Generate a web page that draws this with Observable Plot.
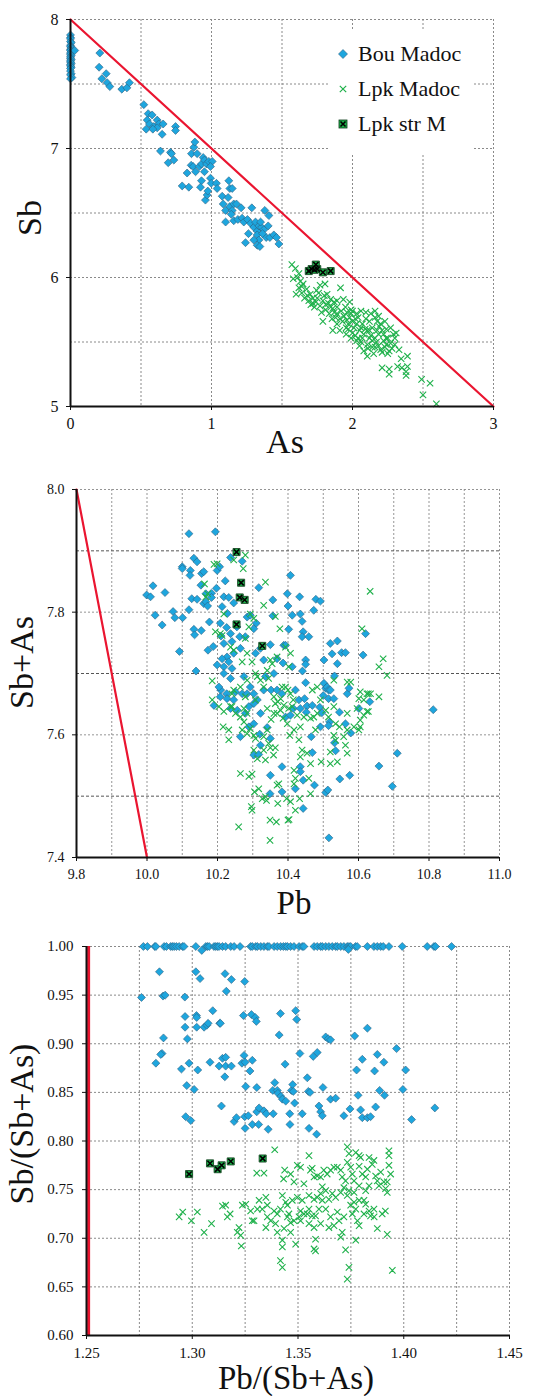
<!DOCTYPE html>
<html>
<head>
<meta charset="utf-8">
<script src="https://cdn.jsdelivr.net/npm/d3@7"></script>
<script src="https://cdn.jsdelivr.net/npm/@observablehq/plot@0.6"></script>
<style>
  html, body { margin: 0; padding: 0; background: white; }
  #wrap { position: relative; width: 543px; }
  #wrap svg { display: block; }
  #legend { position: absolute; left: 328px; top: 31px; width: 146px; height: 122px; background: white;
            font-family: "Liberation Serif", "Times New Roman", serif; font-size: 22px; color: #111; }
  .item { position: absolute; left: 0; height: 24px; display: flex; align-items: center; white-space: nowrap; }
  .item svg { margin-left: 8px; margin-right: 8px; }
</style>
</head>
<body>
<div id="wrap">
  <div id="p1"></div>
  <div id="p2"></div>
  <div id="p3"></div>
  <div id="legend"></div>
</div>
<script>
const seriesNames = ["Bou Madoc", "Lpk Madoc", "Lpk str M"];

// ---------- Panel 1: Sb vs As ----------
const p1XDomain = [0, 3];
const p1YDomain = [5, 8];
const p1XTicks = [0, 1, 2, 3];
const p1YTicks = [5, 6, 7, 8];
const p1XGrid = [0.5, 1, 1.5, 2, 2.5, 3];
const p1YGrid = [5.5, 6, 6.5, 7, 7.5, 8];
const p1RedLine = [[0, 8], [3, 5]];
const p1Bou = [
  [0,7.88],[0,7.86],[0,7.85],[0,7.83],[0.005,7.82],[0,7.80],[0,7.79],[0.005,7.78],[0,7.77],[0,7.76],
  [0.005,7.75],[0,7.74],[0,7.73],[0.005,7.72],[0,7.71],[0,7.70],[0.005,7.69],[0,7.68],[0,7.67],[0.005,7.66],
  [0,7.65],[0,7.64],[0.005,7.63],[0,7.62],[0,7.60],[0.005,7.58],[0,7.57],[0.01,7.55],[0,7.54],[0.03,7.76],
  [0.208,7.74],[0.203,7.63],[0.222,7.54],[0.253,7.58],[0.26,7.51],[0.279,7.48],[0.364,7.46],[0.40,7.47],[0.418,7.51],
  [0.52,7.34],[0.551,7.27],[0.579,7.26],[0.544,7.22],[0.56,7.19],[0.537,7.15],[0.591,7.17],[0.615,7.22],[0.626,7.19],
  [0.657,7.19],[0.65,7.11],[0.615,7.16],[0.584,7.15],[0.745,7.17],[0.745,7.14],[0.638,6.98],[0.693,6.89],[0.709,6.97],
  [0.716,6.96],[0.733,6.91],[0.792,6.71],[0.839,6.70],[0.827,6.81],[0.856,6.87],[0.875,7.01],[0.882,7.05],[0.858,6.96],
  [0.898,6.96],[0.87,6.86],[0.887,6.82],[0.913,6.86],[0.929,6.88],[0.941,6.93],[0.95,6.91],[0.965,6.88],[0.981,6.90],
  [1.005,6.90],[0.993,6.86],[0.95,6.82],[0.929,6.75],[0.922,6.70],[0.957,6.60],[0.969,6.64],[0.974,6.67],[0.993,6.77],
  [0.998,6.73],[1.035,6.73],[1.04,6.69],[1.076,6.63],[1.083,6.57],[1.10,6.52],[1.10,6.43],[1.123,6.75],[1.13,6.69],
  [1.147,6.69],[1.118,6.62],[1.13,6.55],[1.147,6.52],[1.14,6.49],[1.158,6.57],[1.177,6.57],[1.158,6.44],[1.187,6.45],
  [1.217,6.46],[1.21,6.54],[1.229,6.43],[1.241,6.27],[1.255,6.45],[1.262,6.34],[1.286,6.54],[1.277,6.42],[1.30,6.39],
  [1.312,6.43],[1.324,6.36],[1.336,6.40],[1.324,6.33],[1.336,6.29],[1.324,6.25],[1.343,6.24],[1.355,6.39],[1.348,6.43],
  [1.371,6.37],[1.378,6.52],[1.407,6.48],[1.402,6.40],[1.388,6.31],[1.414,6.31],[1.442,6.33],[1.461,6.31],[1.478,6.26],
  [1.30,6.29],[1.362,6.34]
];
const p1Lpk = [
  [1.57,6.10],[1.595,6.07],[1.62,6.03],[1.58,5.99],[1.60,5.87],[1.62,5.92],[1.65,5.95],[1.675,5.91],[1.70,5.87],
  [1.69,5.82],[1.72,5.84],[1.745,5.90],[1.77,5.94],[1.805,5.95],[1.74,5.81],[1.77,5.78],[1.80,5.86],[1.82,5.87],
  [1.845,5.83],[1.87,5.81],[1.915,5.92],[1.89,5.77],[1.92,5.74],[1.96,5.73],[1.98,5.81],[1.99,5.72],[1.79,5.66],
  [1.86,5.59],[1.93,5.66],[1.97,5.64],[2.00,5.66],[2.01,5.61],[2.04,5.69],[2.05,5.59],[2.07,5.64],[2.095,5.68],
  [2.105,5.59],[2.12,5.53],[2.14,5.61],[2.16,5.74],[2.175,5.66],[2.185,5.56],[2.21,5.59],[2.22,5.51],[2.24,5.60],
  [2.25,5.53],[2.27,5.49],[2.31,5.57],[2.30,5.48],[2.26,5.43],[2.21,5.42],[2.16,5.46],[2.105,5.39],[2.08,5.43],
  [2.05,5.47],[2.03,5.51],[1.99,5.53],[1.955,5.56],[1.91,5.59],[1.89,5.64],[1.855,5.68],[1.835,5.72],[1.81,5.75],
  [2.21,5.30],[2.26,5.29],[2.26,5.25],[2.32,5.31],[2.345,5.37],[2.39,5.39],[2.39,5.31],[2.38,5.27],[2.38,5.24],
  [2.49,5.21],[2.55,5.18],[2.50,5.09],[2.595,5.02],[1.935,5.83],[1.89,5.72],[1.91,5.68],[2.00,5.74],[2.03,5.72],
  [2.06,5.74],[2.095,5.73],[2.13,5.72],[2.16,5.69],[2.20,5.64],[2.23,5.66],[2.14,5.51],[2.16,5.53],[2.07,5.53],
  [2.04,5.53],[2.00,5.57],[1.97,5.60],[1.955,5.61],[2.105,5.48],[2.14,5.46],[2.185,5.47],[2.23,5.46],[2.25,5.41],
  [2.30,5.53],[2.27,5.61],[2.06,5.61],[2.08,5.56],[2.12,5.59],[2.175,5.59],[1.73,5.77],[1.705,5.79],[1.66,5.84],
  [1.64,5.88],[1.63,5.97],[1.75,5.84],[1.79,5.82],[1.81,5.79],[1.845,5.77],[1.87,5.73],[1.89,5.82],[1.95,5.77],
  [1.99,5.75],[2.03,5.64],[1.98,5.69],[2.12,5.66],[2.185,5.70],[2.24,5.53],[2.15,5.41],[1.61,6.00],[1.64,5.93],
  [1.68,5.86],[1.72,5.80],[1.76,5.88],[1.78,5.73],[1.83,5.80],[1.86,5.76],[1.88,5.69],[1.94,5.70],[1.96,5.67],
  [2.02,5.68],[2.02,5.55],[2.06,5.50],[2.09,5.60],[2.11,5.45],[2.13,5.55],[2.17,5.50],[2.19,5.62],[2.20,5.44],
  [2.22,5.56],[2.24,5.48],[2.28,5.45],[2.29,5.56],[2.33,5.44],[2.35,5.30]
];
const p1Str = [[1.69,6.05],[1.71,6.065],[1.74,6.10],[1.75,6.065],[1.79,6.04],[1.845,6.05],[1.73,6.06]];

// ---------- Panel 2: Sb+As vs Pb ----------
const p2XDomain = [9.8, 11.0];
const p2YDomain = [7.4, 8.0];
const p2XTicks = [9.8, 10.0, 10.2, 10.4, 10.6, 10.8, 11.0];
const p2YTicks = [7.4, 7.6, 7.8, 8.0];
const p2XGrid = [9.9, 10.0, 10.1, 10.2, 10.3, 10.4, 10.5, 10.6, 10.7, 10.8, 10.9, 11.0];
const p2YGridMajor = [7.6, 7.8, 8.0];
const p2YGridMinor = [7.5, 7.7, 7.9];
const p2RedLine = [[9.8, 8.0], [10.0, 7.4]];
const p2Bou = [
  [10.119,7.928],[10.194,7.931],[10.133,7.888],[10.142,7.882],[10.123,7.868],[10.122,7.860],[10.155,7.863],[10.161,7.866],
  [10.100,7.874],[10.10,7.871],[10.199,7.868],[10.206,7.874],[10.222,7.851],[10.237,7.889],[10.270,7.883],[10.119,7.804],
  [10.127,7.822],[10.142,7.821],[10.161,7.814],[10.167,7.817],[10.172,7.810],[10.153,7.844],[10.167,7.830],[10.183,7.831],
  [10.183,7.824],[10.197,7.839],[10.218,7.825],[10.232,7.824],[10.246,7.815],[9.999,7.828],[10.010,7.825],[10.017,7.843],
  [10.051,7.832],[10.023,7.795],[10.043,7.779],[10.074,7.801],[10.079,7.791],[10.101,7.791],[10.092,7.736],[10.133,7.772],
  [10.135,7.763],[10.154,7.770],[10.177,7.784],[10.188,7.744],[10.139,7.704],[10.173,7.738],[10.210,7.761],[10.208,7.782],
  [10.213,7.809],[10.228,7.798],[10.226,7.775],[10.218,7.749],[10.237,7.765],[10.241,7.752],[10.255,7.776],[10.263,7.760],
  [10.279,7.760],[10.284,7.792],[10.293,7.795],[10.310,7.782],[10.303,7.773],[10.317,7.840],[10.322,7.741],[10.308,7.733],
  [10.331,7.722],[10.265,7.741],[10.246,7.733],[10.227,7.727],[10.213,7.724],[10.232,7.719],[10.241,7.708],[10.218,7.711],
  [10.199,7.714],[10.209,7.673],[10.204,7.678],[10.218,7.700],[10.237,7.692],[10.226,7.667],[10.251,7.670],[10.270,7.667],
  [10.284,7.667],[10.275,7.695],[10.293,7.678],[10.303,7.667],[10.313,7.657],[10.303,7.651],[10.289,7.646],[10.289,7.613],
  [10.265,7.597],[10.190,7.648],[10.208,7.662],[10.227,7.659],[10.246,7.657],[10.237,7.643],[10.256,7.640],[10.279,7.635],
  [10.303,7.618],[10.322,7.635],[10.320,7.601],[10.322,7.583],[10.303,7.567],[10.317,7.568],[10.341,7.612],[10.350,7.594],
  [10.350,7.534],[10.331,7.673],[10.336,7.695],[10.352,7.673],[10.360,7.700],[10.350,7.747],[10.357,7.794],[10.357,7.820],
  [10.369,7.724],[10.388,7.746],[10.393,7.746],[10.386,7.717],[10.398,7.830],[10.400,7.810],[10.402,7.772],[10.407,7.860],
  [10.412,7.795],[10.412,7.711],[10.369,7.673],[10.383,7.667],[10.393,7.629],[10.407,7.632],[10.421,7.673],[10.415,7.643],
  [10.431,7.657],[10.433,7.825],[10.435,7.797],[10.440,7.785],[10.443,7.768],[10.440,7.760],[10.459,7.760],[10.450,7.722],
  [10.450,7.715],[10.441,7.704],[10.450,7.685],[10.447,7.659],[10.435,7.643],[10.454,7.647],[10.469,7.648],[10.452,7.637],
  [10.466,7.597],[10.469,7.571],[10.435,7.548],[10.435,7.540],[10.421,7.512],[10.443,7.480],[10.443,7.526],[10.383,7.548],
  [10.383,7.507],[10.349,7.504],[10.473,7.803],[10.479,7.821],[10.492,7.818],[10.490,7.645],[10.492,7.613],[10.496,7.636],
  [10.475,7.518],[10.502,7.722],[10.502,7.684],[10.500,7.664],[10.507,7.676],[10.511,7.678],[10.515,7.673],[10.520,7.673],
  [10.515,7.659],[10.518,7.621],[10.515,7.615],[10.507,7.506],[10.513,7.510],[10.516,7.432],[10.520,7.749],[10.525,7.732],
  [10.532,7.696],[10.530,7.659],[10.532,7.587],[10.535,7.574],[10.540,7.753],[10.540,7.716],[10.546,7.637],[10.547,7.528],
  [10.552,7.734],[10.563,7.734],[10.563,7.618],[10.568,7.667],[10.573,7.676],[10.578,7.603],[10.575,7.534],[10.601,7.643],
  [10.613,7.730],[10.620,7.765],[10.632,7.654],[10.658,7.549],[10.696,7.516],[10.710,7.570],[10.812,7.641]
];
const p2Lpk = [
  [10.279,7.893],[10.273,7.871],[10.246,7.885],[10.190,7.878],[10.199,7.879],[10.163,7.846],[10.172,7.830],[10.167,7.825],
  [10.185,7.688],[10.216,7.613],[10.232,7.592],[10.232,7.608],[10.260,7.450],[10.265,7.537],[10.289,7.532],[10.298,7.536],
  [10.296,7.483],[10.298,7.477],[10.305,7.507],[10.317,7.512],[10.327,7.496],[10.336,7.499],[10.339,7.493],[10.349,7.461],
  [10.349,7.428],[10.367,7.458],[10.371,7.488],[10.369,7.518],[10.374,7.520],[10.396,7.496],[10.400,7.461],[10.403,7.462],
  [10.407,7.491],[10.417,7.520],[10.417,7.542],[10.421,7.529],[10.433,7.496],[10.435,7.564],[10.440,7.575],[10.454,7.570],
  [10.464,7.553],[10.459,7.529],[10.464,7.504],[10.421,7.477],[10.494,7.556],[10.520,7.553],[10.520,7.572],[10.540,7.556],
  [10.535,7.591],[10.558,7.597],[10.568,7.608],[10.563,7.583],[10.568,7.570],[10.601,7.608],[10.605,7.613],[10.601,7.659],
  [10.605,7.670],[10.615,7.632],[10.624,7.638],[10.624,7.667],[10.628,7.638],[10.610,7.773],[10.633,7.834],[10.658,7.711],
  [10.670,7.724],[10.681,7.697],[10.658,7.662],[10.568,7.686],[10.530,7.689],[10.515,7.629],[10.507,7.640],[10.492,7.657],
  [10.483,7.635],[10.473,7.629],[10.464,7.627],[10.478,7.608],[10.535,7.618],[10.530,7.599],[10.546,7.613],[10.431,7.592],
  [10.435,7.613],[10.417,7.608],[10.405,7.599],[10.398,7.618],[10.386,7.627],[10.369,7.635],[10.364,7.651],[10.371,7.654],
  [10.360,7.662],[10.379,7.659],[10.383,7.678],[10.393,7.678],[10.400,7.673],[10.407,7.667],[10.415,7.657],[10.412,7.646],
  [10.402,7.643],[10.388,7.648],[10.379,7.640],[10.360,7.635],[10.352,7.625],[10.341,7.608],[10.331,7.597],[10.345,7.586],
  [10.350,7.579],[10.364,7.579],[10.359,7.567],[10.331,7.575],[10.336,7.559],[10.313,7.561],[10.303,7.575],[10.308,7.594],
  [10.303,7.599],[10.284,7.602],[10.293,7.610],[10.270,7.608],[10.275,7.621],[10.265,7.629],[10.284,7.635],[10.275,7.643],
  [10.251,7.635],[10.241,7.646],[10.246,7.673],[10.265,7.678],[10.284,7.689],[10.279,7.662],[10.308,7.700],[10.313,7.695],
  [10.322,7.689],[10.331,7.678],[10.345,7.692],[10.350,7.722],[10.355,7.716],[10.341,7.705],[10.369,7.727],[10.393,7.743],
  [10.407,7.733],[10.402,7.711],[10.377,7.773],[10.364,7.793],[10.331,7.811],[10.336,7.849],[10.303,7.790],[10.293,7.797],
  [10.289,7.776],[10.279,7.757],[10.284,7.733],[10.298,7.719],[10.270,7.719],[10.246,7.738],[10.237,7.743],[10.213,7.762],
  [10.218,7.797],[10.208,7.765],[10.194,7.768],[10.241,7.667],[10.237,7.646],[10.218,7.638],[10.204,7.646],[10.185,7.657],
  [10.308,7.657],[10.341,7.643],[10.426,7.632],[10.445,7.629],[10.469,7.673],[10.483,7.678],[10.530,7.646],[10.578,7.686],
  [10.568,7.635],[10.587,7.613],[10.596,7.643],[10.605,7.624],[10.615,7.657],[10.628,7.667],[10.634,7.667]
];
const p2Str = [[10.254,7.898],[10.267,7.848],[10.263,7.824],[10.277,7.820],[10.254,7.780],[10.327,7.745]];

// ---------- Panel 3: Sb/(Sb+As) vs Pb/(Sb+As) ----------
const p3XDomain = [1.25, 1.45];
const p3YDomain = [0.60, 1.00];
const p3XTicks = [1.25, 1.30, 1.35, 1.40, 1.45];
const p3YTicks = [0.60, 0.65, 0.70, 0.75, 0.80, 0.85, 0.90, 0.95, 1.00];
const p3XGrid = [1.2750, 1.30, 1.325, 1.35, 1.375, 1.40, 1.425, 1.45];
const p3YGrid = [0.65, 0.70, 0.75, 0.80, 0.85, 0.90, 0.95, 1.00];
const p3RedLine = [1.251];
const p3Bou = [
  [1.2769,1],[1.2788,1],[1.2823,1],[1.2828,1],[1.2867,1],[1.2878,1],[1.2898,1],[1.2906,1],[1.2914,1],[1.2925,1],
  [1.2938,1],[1.2954,1],[1.2961,1],[1.3017,1],[1.3064,1],[1.3072,1],[1.3080,1],[1.3103,1],[1.3111,1],[1.3119,1],
  [1.3127,1],[1.3143,1],[1.3158,1],[1.3182,1],[1.3198,1],[1.3226,1],[1.3276,1],[1.3284,1],[1.3300,1],[1.3308,1],
  [1.3324,1],[1.3339,1],[1.3355,1],[1.3363,1],[1.3387,1],[1.3402,1],[1.3418,1],[1.3431,1],[1.3442,1],[1.3450,1],
  [1.3465,1],[1.3481,1],[1.3505,1],[1.3520,1],[1.3528,1],[1.3576,1],[1.3591,1],[1.3607,1],[1.3615,1],[1.3631,1],
  [1.3646,1],[1.3662,1],[1.3678,1],[1.3686,1],[1.3702,1],[1.3717,1],[1.3733,1],[1.3741,1],[1.3749,1],[1.3772,1],
  [1.3780,1],[1.3828,1],[1.3859,1],[1.3875,1],[1.3891,1],[1.3903,1],[1.3930,1],[1.3993,1],[1.4111,1],[1.4143,1],
  [1.4150,1],[1.4226,1],[1.3045,0.996],[1.3738,0.997],
  [1.2760,0.9476],[1.2845,0.974],[1.2862,0.949],[1.2872,0.950],[1.2864,0.906],[1.2857,0.890],[1.2851,0.889],[1.2828,0.880],
  [1.2949,0.874],[1.2965,0.948],[1.2966,0.928],[1.2966,0.917],[1.2977,0.905],[1.2985,0.880],[1.2974,0.857],[1.2969,0.825],
  [1.2993,0.821],[1.3009,0.853],[1.3017,0.974],[1.3020,0.929],[1.3021,0.927],[1.3021,0.917],[1.3026,0.873],[1.3037,0.967],
  [1.3056,0.917],[1.3069,0.919],[1.3075,0.921],[1.3084,0.881],[1.3097,0.934],[1.3130,0.921],[1.3133,0.921],[1.3127,0.877],
  [1.3138,0.836],[1.3143,0.885],[1.3155,0.972],[1.3161,0.954],[1.3158,0.886],[1.3158,0.877],[1.3154,0.866],[1.3185,0.877],
  [1.3185,0.966],[1.3198,0.820],[1.3209,0.824],[1.3235,0.880],[1.3242,0.929],[1.3248,0.964],[1.3245,0.888],[1.3250,0.881],
  [1.3253,0.856],[1.3248,0.825],[1.3250,0.813],[1.3265,0.826],[1.3273,0.872],[1.3280,0.930],[1.3284,0.883],[1.3284,0.817],
  [1.3298,0.927],[1.3303,0.923],[1.3305,0.855],[1.3305,0.830],[1.3316,0.834],[1.3314,0.817],[1.3339,0.831],[1.3350,0.828],
  [1.3359,0.812],[1.3383,0.828],[1.3390,0.860],[1.3381,0.852],[1.3402,0.852],[1.3405,0.849],[1.3411,0.909],[1.3417,0.931],
  [1.3419,0.846],[1.3426,0.843],[1.3439,0.879],[1.3442,0.841],[1.3461,0.828],[1.3462,0.817],[1.3469,0.852],[1.3475,0.858],
  [1.3478,0.851],[1.3484,0.839],[1.3489,0.934],[1.3494,0.925],[1.3509,0.890],[1.3520,0.828],[1.3544,0.865],[1.3549,0.851],
  [1.3557,0.850],[1.3552,0.813],[1.3572,0.887],[1.3591,0.891],[1.3588,0.807],[1.3599,0.836],[1.3607,0.830],[1.3615,0.826],
  [1.3618,0.855],[1.3631,0.907],[1.3643,0.905],[1.3654,0.904],[1.3654,0.843],[1.3678,0.844],[1.3717,0.826],[1.3746,0.833],
  [1.3768,0.908],[1.3777,0.873],[1.3784,0.847],[1.3796,0.832],[1.3804,0.884],[1.3804,0.824],[1.3828,0.916],[1.3828,0.824],
  [1.3843,0.825],[1.3862,0.872],[1.3867,0.835],[1.3875,0.889],[1.3886,0.852],[1.3906,0.881],[1.3909,0.847],[1.3966,0.895],
  [1.3996,0.853],[1.4009,0.873],[1.4037,0.822],[1.4147,0.834]
];
const p3Lpk = [
  [1.3946,0.667],[1.3733,0.658],[1.3741,0.670],[1.3725,0.688],[1.3702,0.701],[1.3709,0.706],[1.3922,0.704],[1.3875,0.710],
  [1.3898,0.725],[1.3913,0.728],[1.3860,0.722],[1.3836,0.728],[1.3820,0.735],[1.3789,0.739],[1.3773,0.730],[1.3781,0.718],
  [1.3789,0.713],[1.3773,0.698],[1.3749,0.734],[1.3733,0.744],[1.3717,0.722],[1.3694,0.718],[1.3670,0.713],[1.3654,0.722],
  [1.3631,0.730],[1.3615,0.739],[1.3591,0.742],[1.3583,0.723],[1.3576,0.711],[1.3583,0.699],[1.3576,0.689],[1.3583,0.687],
  [1.3552,0.715],[1.3544,0.725],[1.3552,0.730],[1.3528,0.725],[1.3512,0.728],[1.3505,0.722],[1.3489,0.694],[1.3481,0.718],
  [1.3465,0.706],[1.3457,0.725],[1.3450,0.722],[1.3434,0.710],[1.3426,0.698],[1.3426,0.691],[1.3417,0.677],[1.3426,0.670],
  [1.3402,0.706],[1.3394,0.715],[1.3402,0.725],[1.3417,0.730],[1.3426,0.744],[1.3387,0.728],[1.3348,0.711],[1.3355,0.734],
  [1.3348,0.742],[1.3316,0.739],[1.3308,0.730],[1.3292,0.718],[1.3284,0.718],[1.3276,0.728],[1.3237,0.734],[1.3253,0.735],
  [1.3221,0.711],[1.3213,0.706],[1.3229,0.703],[1.3232,0.692],[1.3179,0.725],[1.3166,0.722],[1.3158,0.734],[1.3143,0.733],
  [1.3091,0.715],[1.3056,0.706],[1.3024,0.727],[1.2996,0.718],[1.2955,0.727],[1.2938,0.722],[1.3305,0.767],[1.3339,0.767],
  [1.3390,0.791],[1.3437,0.770],[1.3432,0.761],[1.3465,0.766],[1.3481,0.758],[1.3497,0.775],[1.3512,0.773],[1.3528,0.756],
  [1.3552,0.785],[1.3559,0.770],[1.3567,0.772],[1.3576,0.763],[1.3591,0.764],[1.3607,0.763],[1.3622,0.770],[1.3638,0.766],
  [1.3615,0.753],[1.3631,0.749],[1.3654,0.770],[1.3670,0.773],[1.3686,0.773],[1.3702,0.770],[1.3709,0.763],[1.3725,0.759],
  [1.3733,0.794],[1.3741,0.787],[1.3733,0.778],[1.3749,0.773],[1.3717,0.752],[1.3741,0.749],[1.3765,0.759],[1.3757,0.766],
  [1.3773,0.788],[1.3789,0.785],[1.3796,0.783],[1.3789,0.774],[1.3804,0.766],[1.3820,0.763],[1.3828,0.771],[1.3836,0.783],
  [1.3851,0.776],[1.3859,0.780],[1.3867,0.764],[1.3875,0.759],[1.3883,0.754],[1.3891,0.768],[1.3906,0.758],[1.3914,0.751],
  [1.3922,0.747],[1.3930,0.790],[1.3930,0.785],[1.3930,0.775],[1.3938,0.766],[1.3922,0.758],[1.3836,0.754],[1.3820,0.749],
  [1.3789,0.754],[1.3765,0.747],[1.3702,0.747],[1.3678,0.742],[1.3662,0.746],[1.3646,0.740],[1.3607,0.746],[1.3576,0.740],
  [1.3552,0.744],[1.3520,0.739],[1.3497,0.742],[1.3473,0.739],[1.3450,0.734],[1.3442,0.737],[1.3812,0.725],[1.3843,0.723],
  [1.3859,0.730],[1.3812,0.739],[1.3765,0.737],[1.3757,0.725],[1.3686,0.727],[1.3646,0.711],[1.3607,0.715],[1.3599,0.730],
  [1.3567,0.723],[1.3512,0.718],[1.3465,0.716],[1.3371,0.718],[1.3355,0.722],[1.3331,0.730]
];
const p3Str = [[1.2985,0.766],[1.3084,0.777],[1.3120,0.771],[1.3139,0.775],[1.3182,0.779],[1.3333,0.782]];

// ---------- Styles ----------
const BLUE = "#1ea6de";
const BLUE_EDGE = "#2f5f80";
const GREEN = "#1fb14b";
const RED = "#ea1530";
const FONT = "Liberation Serif";
const GRID = "#8a8a8a";
const xy = {x: d => d[0], y: d => d[1]};

function seriesMarks(bou, lpk, str) {
  return [
    Plot.dot(bou, {...xy, symbol: "diamond2", r: 3.6, fill: BLUE, stroke: BLUE_EDGE, strokeWidth: 0.6}),
    Plot.dot(lpk, {...xy, symbol: "times", r: 3, stroke: GREEN, strokeWidth: 1.1}),
    Plot.dot(str, {...xy, symbol: "square", r: 4, fill: GREEN, stroke: "#0b3a18", strokeWidth: 0.8}),
    Plot.dot(str, {...xy, symbol: "times", r: 2.5, stroke: "#000", strokeWidth: 1.6})
  ];
}
function xLabel(t, dy, dx, size) {
  return Plot.text([t], {frameAnchor: "bottom", dy, dx, fontSize: size, text: d => d,
    textAnchor: "middle", lineAnchor: "middle", fontFamily: FONT});
}
function yLabel(t, dx, dy, size) {
  return Plot.text([t], {frameAnchor: "left", dx, dy, rotate: -90, fontSize: size, text: d => d,
    textAnchor: "middle", lineAnchor: "middle", fontFamily: FONT});
}
const baseStyle = {fontFamily: FONT, background: "white", color: "#111", overflow: "visible"};

// Panel 1
const chart1 = Plot.plot({
  width: 543, height: 460,
  marginLeft: 70, marginRight: 50, marginTop: 19, marginBottom: 54,
  style: baseStyle,
  x: {domain: p1XDomain},
  y: {domain: p1YDomain},
  marks: [
    Plot.gridX(p1XGrid, {stroke: GRID, strokeOpacity: 1, strokeDasharray: "2,2"}),
    Plot.gridY(p1YGrid, {stroke: GRID, strokeOpacity: 1, strokeDasharray: "2,2"}),
    Plot.line(p1RedLine, {...xy, stroke: RED, strokeWidth: 2.2}),
    ...seriesMarks(p1Bou, p1Lpk, p1Str),
    Plot.ruleX([p1XDomain[0]], {stroke: "#111", strokeWidth: 2}),
    Plot.ruleY([p1YDomain[0]], {stroke: "#111", strokeWidth: 2}),
    Plot.axisX(p1XTicks, {tickSize: 4, tickPadding: 7, fontSize: 16, label: null, stroke: "#111", tickFormat: d3.format("d")}),
    Plot.axisY(p1YTicks, {tickSize: 4, tickPadding: 8, fontSize: 16, label: null, stroke: "#111", tickFormat: d3.format("d")}),
    xLabel("As", 36, 3, 34),
    yLabel("Sb", -40, 5, 34)
  ]
});
document.getElementById("p1").append(chart1);

// Panel 2
const chart2 = Plot.plot({
  width: 543, height: 460,
  marginLeft: 76, marginRight: 44, marginTop: 29, marginBottom: 63,
  style: baseStyle,
  x: {domain: p2XDomain},
  y: {domain: p2YDomain},
  marks: [
    Plot.gridX(p2XGrid, {stroke: GRID, strokeOpacity: 0.9, strokeDasharray: "2,2"}),
    Plot.gridY(p2YGridMajor, {stroke: GRID, strokeOpacity: 0.9, strokeDasharray: "2,2"}),
    Plot.gridY(p2YGridMinor, {stroke: "#555", strokeOpacity: 1, strokeDasharray: "3,2"}),
    Plot.line(p2RedLine, {...xy, stroke: RED, strokeWidth: 2.2}),
    ...seriesMarks(p2Bou, p2Lpk, p2Str),
    Plot.ruleX([p2XDomain[0]], {stroke: "#111", strokeWidth: 2}),
    Plot.ruleY([p2YDomain[0]], {stroke: "#111", strokeWidth: 2}),
    Plot.axisX(p2XTicks, {tickSize: 4, tickPadding: 8, fontSize: 14, label: null, stroke: "#111", tickFormat: d3.format(".1f")}),
    Plot.axisY(p2YTicks, {tickSize: 4, tickPadding: 8, fontSize: 14, label: null, stroke: "#111", tickFormat: d3.format(".1f")}),
    xLabel("Pb", 46, 6, 33),
    yLabel("Sb+As", -54, -11, 34)
  ]
});
document.getElementById("p2").append(chart2);

// Panel 3
const chart3 = Plot.plot({
  width: 543, height: 476,
  marginLeft: 86, marginRight: 34, marginTop: 26, marginBottom: 61,
  style: baseStyle,
  x: {domain: p3XDomain},
  y: {domain: p3YDomain},
  marks: [
    Plot.gridX(p3XGrid, {stroke: GRID, strokeOpacity: 1, strokeDasharray: "2,2"}),
    Plot.gridY(p3YGrid, {stroke: GRID, strokeOpacity: 1, strokeDasharray: "2,2"}),
    Plot.ruleX(p3RedLine, {y1: p3YDomain[0], y2: p3YDomain[1], stroke: RED, strokeWidth: 3}),
    ...seriesMarks(p3Bou, p3Lpk, p3Str),
    Plot.ruleX([p3XDomain[0]], {stroke: "#111", strokeWidth: 2}),
    Plot.ruleY([p3YDomain[0]], {stroke: "#111", strokeWidth: 2}),
    Plot.axisX(p3XTicks, {tickSize: 4, tickPadding: 8, fontSize: 15, label: null, stroke: "#111", tickFormat: d3.format(".2f")}),
    Plot.axisY(p3YTicks, {tickSize: 4, tickPadding: 9, fontSize: 15, label: null, stroke: "#111", tickFormat: d3.format(".2f")}),
    xLabel("Pb/(Sb+As)", 43, -2, 33),
    yLabel("Sb/(Sb+As)", -64, -17, 34)
  ]
});
document.getElementById("p3").append(chart3);

// Legend (overlay inside panel 1)
const legendSymbols = [
  `<svg width="14" height="14" viewBox="-7 -7 14 14"><path d="M0,-4.5L4.5,0L0,4.5L-4.5,0Z" fill="${BLUE}" stroke="${BLUE_EDGE}" stroke-width="0.6"/></svg>`,
  `<svg width="14" height="14" viewBox="-7 -7 14 14"><path d="M-3.2,-3.2L3.2,3.2M-3.2,3.2L3.2,-3.2" stroke="${GREEN}" stroke-width="1.2" fill="none"/></svg>`,
  `<svg width="14" height="14" viewBox="-7 -7 14 14"><rect x="-4" y="-4" width="8" height="8" fill="${GREEN}" stroke="#0b3a18" stroke-width="0.8"/><path d="M-2.5,-2.5L2.5,2.5M-2.5,2.5L2.5,-2.5" stroke="#000" stroke-width="1.6"/></svg>`
];
const legend = document.getElementById("legend");
seriesNames.forEach((name, i) => {
  const item = document.createElement("div");
  item.className = "item";
  item.style.top = (11 + i * 35) + "px";
  item.innerHTML = legendSymbols[i] + `<span>${name}</span>`;
  legend.append(item);
});
</script>
</body>
</html>
